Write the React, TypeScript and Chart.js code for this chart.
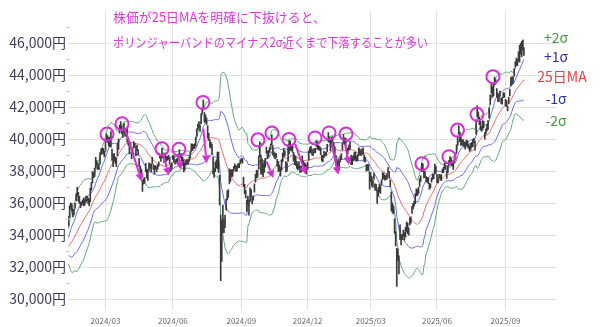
import React, { useEffect, useRef } from 'react';
import { Chart, registerables } from 'chart.js';

Chart.register(...registerables);

// ---------- data ----------
const months = ['2023/12', '2024/01', '2024/02', '2024/03', '2024/04', '2024/05', '2024/06', '2024/07', '2024/08', '2024/09', '2024/10', '2024/11', '2024/12', '2025/01', '2025/02', '2025/03', '2025/04', '2025/05', '2025/06', '2025/07', '2025/08', '2025/09'];
const monthDays = [21, 19, 19, 20, 21, 21, 20, 22, 21, 19, 22, 20, 21, 19, 18, 20, 21, 20, 21, 22, 20, 18];

// closes before the first shown day (for the 25-day bands)
const warmupCloses = [33431, 33231, 33231, 33445, 32858, 32307, 32791, 32843, 32926, 32686, 32970, 32758, 33219, 33675, 33141, 33169, 33254, 33305, 33681, 33539, 33464, 33288, 33377, 33763, 34441];

const closes = [
  // 2024/01
  35049, 35577, 35901, 35619, 35477, 35466, 35963, 36546, 36517, 36226, 36236, 35751, 36026, 36065, 36286,
  // 2024/02
  36011, 36158, 36354, 36160, 36119, 36863, 36897, 37963, 37703, 38157, 38487, 38470, 38363, 38262, 39098, 39233, 39239, 39208, 39166,
  // 2024/03
  39910, 40109, 40097, 40090, 39598, 39688, 38820, 38797, 38695, 38807, 38707, 39740, 40003, 40815, 40888, 40414, 40398, 40762, 40168, 40369,
  // 2024/04
  39803, 39838, 39451, 39773, 38992, 39347, 39773, 39581, 39442, 39523, 39232, 38471, 37961, 38079, 37068, 37438, 37552, 38460, 37628, 37934, 38405,
  // 2024/05
  38274, 38236, 38835, 38202, 38073, 38229, 38179, 38356, 38385, 38920, 38787, 39069, 38946, 38617, 39103, 38646, 38900, 38855, 38556, 38054, 38487,
  // 2024/06
  38923, 38837, 38490, 38703, 38683, 39038, 39134, 38876, 38720, 38814, 38102, 38482, 38570, 38633, 38596, 38804, 39173, 39667, 39341, 39583,
  // 2024/07
  39631, 40074, 40580, 40913, 40912, 40780, 41580, 41831, 42224, 41190, 41275, 41097, 40126, 40063, 39599, 39594, 39154, 37869, 37667, 38468, 38525, 39101,
  // 2024/08
  38126, 35909, 31458, 34675, 35089, 34831, 35025, 36232, 36442, 36726, 38062, 37388, 38062, 37951, 38211, 38364, 38110, 38288, 38371, 38362, 38647,
  // 2024/09
  38700, 38686, 37047, 36657, 36391, 36159, 36159, 35619, 36833, 36581, 36203, 36380, 37155, 37723, 37940, 37870, 38925, 39829, 37919,
  // 2024/10
  38651, 37808, 38552, 38635, 39332, 38937, 39277, 39380, 39605, 39910, 39180, 38911, 38981, 38954, 38411, 38104, 38143, 37913, 38605, 39027, 39277, 39081,
  // 2024/11
  38053, 38474, 39480, 39381, 39500, 39533, 39376, 38721, 38535, 38642, 38220, 38414, 38352, 38026, 38283, 38780, 38442, 38134, 38349, 38208,
  // 2024/12
  38513, 39248, 39276, 39395, 39091, 39160, 39367, 39372, 39849, 39470, 39457, 39364, 39082, 38813, 38701, 39161, 39036, 39130, 39568, 40281, 39894,
  // 2025/01
  39307, 40083, 39981, 39605, 39190, 38474, 38444, 38572, 38451, 38902, 39027, 39646, 39958, 39931, 39565, 39016, 39414, 39513, 39572,
  // 2025/02
  38520, 38798, 38831, 39066, 38787, 38801, 38963, 39461, 39149, 39174, 39270, 39164, 38678, 38776, 38237, 38142, 38256, 37155,
  // 2025/03
  37785, 37331, 37418, 37704, 36887, 37028, 36793, 36819, 36790, 37053, 37396, 37845, 37751, 37677, 37608, 37780, 38027, 37799, 37120, 35617,
  // 2025/04
  35624, 35725, 34735, 33780, 31136, 33012, 31714, 34609, 33585, 33982, 34267, 33920, 34377, 34730, 34280, 34220, 34868, 35039, 35705, 35839, 36045,
  // 2025/05
  36452, 36830, 36780, 36928, 37503, 37644, 38183, 38128, 37755, 37753, 37498, 37529, 37299, 36985, 37160, 37531, 37724, 37722, 38432, 37965,
  // 2025/06
  37470, 37446, 37747, 37554, 37741, 38088, 38211, 38421, 38173, 37834, 38311, 38536, 38885, 38488, 38403, 38354, 38790, 38942, 39584, 40150, 40487,
  // 2025/07
  39986, 39762, 39785, 39810, 39587, 39688, 39821, 39646, 39569, 39459, 39678, 39663, 39901, 39819, 39774, 41171, 41826, 41456, 40998, 40674, 40654, 41069,
  // 2025/08
  40799, 40290, 40549, 40794, 41059, 41820, 42718, 43274, 42649, 43378, 43714, 43546, 42888, 42610, 42633, 42807, 42394, 42520, 42829, 42718,
  // 2025/09
  42188, 42310, 41938, 42580, 43018, 43643, 43459, 43837, 44372, 44768, 44902, 44790, 45303, 45045, 45493, 45630, 45754, 45354,
];

const highs = [
  35160, 35840, 36008, 35970, 35630, 35620, 36000, 36580, 36980, 36670, 36420, 36060, 36080, 36200, 36330,
  36190, 36440, 36420, 36330, 36250, 36920, 37290, 37970, 37900, 38190, 38860, 38650, 38480, 38400, 39160, 39390, 39430, 39420, 39240,
  39990, 40310, 40200, 40100, 40130, 40470, 39370, 39060, 39100, 38880, 38790, 39760, 40010, 40880, 41090, 40840, 40500, 40980, 40620, 40560,
  40700, 39920, 39640, 39790, 39200, 39460, 39850, 39740, 39520, 39620, 39350, 38800, 38310, 38120, 37430, 37500, 37600, 38490, 38110, 38050, 38520,
  38460, 38440, 38860, 38420, 38320, 38350, 38270, 38410, 38580, 39000, 38910, 39440, 39130, 38900, 39140, 38920, 38920, 38980, 38830, 38400, 38520,
  38990, 38950, 38660, 38750, 38790, 39060, 39330, 39040, 39090, 38870, 38680, 38510, 38670, 38720, 38690, 38880, 39180, 39710, 39690, 39660,
  39700, 40130, 40640, 40940, 41100, 40860, 41600, 41870, 42430, 41650, 41520, 41330, 40850, 40360, 39960, 39800, 39690, 38880, 38150, 38570, 38710, 39180,
  39190, 37730, 35250, 34910, 35880, 35020, 35250, 36270, 36760, 36850, 38140, 38070, 38100, 38090, 38290, 38450, 38320, 38350, 38470, 38490, 38700,
  38780, 38800, 37620, 37170, 36790, 36190, 36440, 36200, 36960, 36850, 36350, 36450, 37200, 37800, 38050, 38050, 38950, 39830, 39000,
  38760, 38450, 38620, 38800, 39500, 39230, 39300, 39470, 39700, 40260, 39600, 39200, 39120, 39110, 38730, 38590, 38380, 38240, 38700, 39130, 39400, 39280,
  38590, 38520, 39660, 39900, 39880, 39590, 39600, 39170, 39000, 38900, 38610, 38450, 38590, 38310, 38320, 38950, 38620, 38520, 38470, 38360,
  38560, 39270, 39470, 39540, 39390, 39210, 39400, 39420, 39900, 39850, 39590, 39550, 39450, 38980, 38970, 39230, 39190, 39170, 39670, 40400, 40130,
  39990, 40130, 40150, 39780, 39510, 38970, 38600, 38750, 38620, 38950, 39090, 39730, 40280, 40060, 40060, 39380, 39450, 39620, 39810,
  38990, 38890, 38980, 39180, 39190, 38900, 39030, 39470, 39390, 39280, 39370, 39460, 39000, 38870, 38400, 38400, 38400, 37930,
  37900, 37650, 37450, 37880, 37210, 37170, 36800, 36990, 37190, 37090, 37450, 37900, 37880, 37740, 37720, 37860, 38220, 37970, 37460, 36710,
  35990, 35810, 35010, 34200, 33170, 33120, 32700, 34640, 34000, 34050, 34310, 34150, 34470, 34830, 34750, 34460, 35070, 35140, 35790, 35980, 36130,
  36600, 36890, 36840, 36980, 37530, 37700, 38490, 38450, 38080, 37970, 37660, 37610, 37600, 37230, 37210, 37580, 37810, 37800, 38440, 38300,
  37790, 37580, 37800, 37770, 37780, 38120, 38240, 38500, 38370, 38010, 38340, 38660, 38900, 38820, 38640, 38500, 38830, 39080, 39640, 40180, 40850,
  40440, 40150, 39980, 39970, 39830, 39800, 39940, 39900, 39700, 39580, 39730, 39790, 39950, 40040, 39890, 41200, 42070, 41700, 41360, 41110, 40790, 41160,
  41110, 40400, 40640, 40920, 41150, 41950, 42770, 43450, 43260, 43450, 43880, 43710, 43160, 42870, 42740, 43000, 42570, 42580, 42910, 42870,
  42480, 42400, 42040, 42610, 43130, 43840, 43900, 43880, 44400, 44830, 45060, 44970, 45450, 45850, 45980, 46100, 46180, 45720,
];

const lows = [
  34560, 35140, 35640, 35500, 35130, 35260, 35660, 36150, 36430, 36120, 35980, 35720, 35850, 35930, 35820,
  35880, 36040, 36140, 35980, 35830, 36070, 36800, 37260, 37590, 37670, 38160, 38380, 38100, 38090, 38430, 39040, 39150, 39040, 38880,
  39240, 39920, 39780, 39550, 39520, 39500, 38660, 38270, 38640, 38480, 38270, 38950, 39360, 40370, 40670, 40340, 40110, 40410, 40160, 40220,
  39800, 39620, 39070, 39480, 38770, 39070, 39460, 39500, 38960, 39270, 39000, 38290, 37900, 37560, 36730, 37180, 37250, 37940, 37550, 37410, 38040,
  38180, 37970, 38480, 38100, 37800, 38130, 37950, 38120, 38300, 38800, 38610, 38850, 38800, 38530, 38600, 38600, 38680, 38750, 38460, 37980, 38170,
  38710, 38560, 38430, 38540, 38580, 38700, 38960, 38830, 38620, 38350, 37950, 38060, 38380, 38420, 38430, 38610, 38800, 39190, 39280, 39390,
  39420, 39560, 40160, 40600, 40700, 40480, 40960, 41600, 41950, 41060, 41050, 40920, 40050, 39910, 39500, 39430, 39040, 37830, 37610, 37970, 38220, 38140,
  37920, 35880, 31160, 32350, 34150, 34150, 34470, 35550, 36200, 36360, 37200, 37350, 37660, 37660, 37990, 38170, 37980, 37990, 38190, 38210, 38440,
  38590, 38500, 37020, 36590, 36300, 35480, 35910, 35250, 36100, 36400, 35950, 36180, 36690, 37300, 37570, 37620, 38100, 38900, 37800,
  37810, 37650, 37910, 38250, 39120, 38780, 38890, 39160, 39350, 39630, 39000, 38870, 38760, 38830, 38300, 37980, 38000, 37680, 38080, 38590, 38880, 38950,
  37950, 37990, 38600, 39100, 39280, 39290, 39180, 38630, 38420, 38360, 38170, 38070, 38170, 37910, 37930, 38500, 38330, 37970, 38100, 37820,
  38110, 38660, 39140, 39150, 39010, 38960, 39130, 39150, 39540, 39380, 39330, 39290, 39010, 38630, 38570, 38860, 38960, 38980, 39200, 39820, 39790,
  39260, 39500, 39850, 39500, 39040, 38350, 38220, 38370, 38060, 38580, 38720, 39300, 39740, 39650, 39460, 38880, 39110, 39320, 39360,
  38400, 38400, 38630, 38700, 38660, 38610, 38660, 38940, 39040, 38960, 39070, 39030, 38600, 38550, 38000, 38040, 38040, 36870,
  37350, 37050, 36980, 37500, 36810, 36790, 35980, 36440, 36690, 36610, 37140, 37470, 37540, 37440, 37470, 37500, 37880, 37550, 37020, 35510,
  35380, 35320, 34100, 33320, 30790, 32410, 31580, 33720, 33380, 33710, 33920, 33680, 33890, 34230, 34090, 33990, 34640, 34740, 35360, 35620, 35800,
  35970, 36480, 36450, 36600, 37040, 37350, 37960, 37980, 37570, 37610, 37320, 37310, 37220, 36860, 36950, 37300, 37480, 37520, 37800, 37860,
  37280, 37260, 37590, 37480, 37400, 37880, 37900, 38170, 38100, 37540, 37900, 38320, 38570, 38400, 38310, 38100, 38520, 38750, 39100, 39620, 40300,
  39840, 39610, 39630, 39610, 39500, 39370, 39590, 39500, 39420, 39230, 39320, 39480, 39530, 39760, 39300, 40300, 41390, 41280, 40900, 40570, 40480, 40570,
  40710, 39990, 40300, 40510, 40610, 41300, 42170, 42880, 42600, 42700, 43400, 43450, 42620, 42350, 42330, 42660, 42230, 42180, 42590, 42610,
  42080, 42030, 41760, 42200, 42700, 43320, 43420, 43500, 43910, 44490, 44620, 44580, 44870, 44800, 45300, 45150, 45560, 45220,
];

const tickMonths = ['2024/03', '2024/06', '2024/09', '2024/12', '2025/03', '2025/06', '2025/09'];
const yTickValues = [30000, 32000, 34000, 36000, 38000, 40000, 42000, 44000, 46000];
const yMinorValues = [31000, 33000, 35000, 37000, 39000, 41000, 43000, 45000, 47000];

// [trading-day index, price]
const circleMarks = [
  [35.4, 40310], [49.2, 40960], [86.0, 39390], [101.6, 39360], [123.7, 42290],
  [174.3, 39950], [187.2, 40380], [202.8, 39980], [226.8, 40070], [239.7, 40380],
  [255.3, 40320], [325.2, 38460], [350.0, 38900], [357.9, 40560], [375.8, 41550], [390.5, 43900],
];
// [from index, from price, to index, to price]
const arrowMarks = [
  [52.0, 40620, 67.4, 37350],
  [86.9, 39080, 92.4, 37720],
  [100.7, 39020, 103.5, 38090],
  [124.0, 40640, 127.1, 38480],
  [182.3, 38590, 188.4, 37560],
  [208.4, 39720, 218.5, 37770],
  [242.1, 39720, 248.2, 37770],
  [254.4, 39720, 258.0, 38380],
];

const headerLines = ['株価が25日MAを明確に下抜けると、', 'ポリンジャーバンドのマイナス2σ近くまで下落することが多い'];
const bandLabels = ['+2σ', '+1σ', '25日MA', '-1σ', '-2σ'];

// ---------- component ----------
const FONT = '"Noto Sans CJK JP", "Noto Sans", sans-serif';
const MAGENTA = '#d62fd6';

export default function App() {
  const ref = useRef<HTMLCanvasElement | null>(null);

  useEffect(() => {
    const canvas = ref.current;
    if (!canvas) return;
    const W = warmupCloses.length;
    const full = [...warmupCloses, ...closes];
    const ma: any[] = [], p1: any[] = [], p2: any[] = [], m1: any[] = [], m2: any[] = [];
    for (let i = 0; i < closes.length; i++) {
      const j = i + W;
      const win = full.slice(j - 24, j + 1);
      const m = win.reduce((a, v) => a + v, 0) / win.length;
      const sd = Math.sqrt(win.reduce((a, v) => a + (v - m) * (v - m), 0) / win.length);
      ma.push({ x: i, y: m });
      p1.push({ x: i, y: m + sd });
      p2.push({ x: i, y: m + 2 * sd });
      m1.push({ x: i, y: m - sd });
      m2.push({ x: i, y: m - 2 * sd });
    }
    const candles = closes.map((_, i) => ({ x: i, y: [lows[i], highs[i]] }));

    const monthStart: Record<string, number> = {};
    let acc = 0;
    months.forEach((m, k) => { monthStart[m] = acc - W; acc += monthDays[k]; });
    const xTickVals = tickMonths.map((m) => monthStart[m]);
    const xLabel = new Map<number, string>();
    tickMonths.forEach((m, k) => xLabel.set(xTickVals[k], m));

    const annot = {
      id: 'annot',
      afterDraw(chart: any) {
        const { ctx, chartArea } = chart;
        const xs = chart.scales.x, ys = chart.scales.y;
        ctx.save();
        // minor y ticks
        ctx.strokeStyle = '#c9c9c9';
        ctx.lineWidth = 1;
        yMinorValues.forEach((v) => {
          const py = Math.round(ys.getPixelForValue(v)) + 0.5;
          ctx.beginPath();
          ctx.moveTo(chartArea.left - 2, py);
          ctx.lineTo(chartArea.left + 2, py);
          ctx.stroke();
        });
        // arrows
        ctx.strokeStyle = MAGENTA;
        ctx.fillStyle = MAGENTA;
        ctx.lineWidth = 2;
        arrowMarks.forEach(([i1, v1, i2, v2]) => {
          const x1 = xs.getPixelForValue(i1), y1 = ys.getPixelForValue(v1);
          const x2 = xs.getPixelForValue(i2), y2 = ys.getPixelForValue(v2);
          const ang = Math.atan2(y2 - y1, x2 - x1);
          const L = 8, H = 4;
          const bx = x2 - L * Math.cos(ang), by = y2 - L * Math.sin(ang);
          ctx.beginPath();
          ctx.moveTo(x1, y1);
          ctx.lineTo(bx, by);
          ctx.stroke();
          ctx.beginPath();
          ctx.moveTo(x2, y2);
          ctx.lineTo(bx + H * Math.sin(ang), by - H * Math.cos(ang));
          ctx.lineTo(bx - H * Math.sin(ang), by + H * Math.cos(ang));
          ctx.closePath();
          ctx.fill();
        });
        // circles
        circleMarks.forEach(([i, v]) => {
          ctx.beginPath();
          ctx.arc(xs.getPixelForValue(i), ys.getPixelForValue(v), 6.5, 0, Math.PI * 2);
          ctx.stroke();
        });
        // header
        ctx.fillStyle = '#dc3adc';
        ctx.font = `13px ${FONT}`;
        ctx.textBaseline = 'middle';
        ctx.textAlign = 'left';
        ctx.fillText(headerLines[0], 113, 17, 213);
        ctx.fillText(headerLines[1], 113, 42, 315);
        // band labels
        const lab = [
          { c: '#3f9a3f', x: 556, y: 38 },
          { c: '#2b2bb8', x: 556, y: 57 },
          { c: '#e5443c', x: 562, y: 77 },
          { c: '#2b2bb8', x: 556, y: 99 },
          { c: '#3f9a3f', x: 556, y: 121 },
        ];
        ctx.font = `14px ${FONT}`;
        ctx.textAlign = 'center';
        bandLabels.forEach((t, k) => {
          ctx.fillStyle = lab[k].c;
          ctx.fillText(t, lab[k].x, lab[k].y);
        });
        ctx.restore();
      },
    };

    const lineDs = (data: any[], color: string) => ({
      type: 'line', data, borderColor: color, borderWidth: 1, pointRadius: 0, tension: 0, order: 1,
    });

    const chart = new Chart(canvas, {
      type: 'bar',
      data: {
        datasets: [
          { type: 'bar', data: candles as any, backgroundColor: '#3a3a3a', borderWidth: 0, barThickness: 1, order: 0 } as any,
          lineDs(p2, '#62a87c') as any,
          lineDs(p1, '#6b6be2') as any,
          lineDs(ma, '#ee6a6a') as any,
          lineDs(m1, '#6b6be2') as any,
          lineDs(m2, '#62a87c') as any,
        ],
      },
      options: {
        responsive: false,
        animation: false,
        layout: { padding: { top: 7, right: 44, left: 0, bottom: 0 } },
        plugins: { legend: { display: false }, tooltip: { enabled: false } },
        scales: {
          x: {
            type: 'linear',
            min: -0.5,
            max: 448.5,
            offset: false,
            grid: { color: '#e1e1e1', drawTicks: false, offset: false },
            border: { display: false },
            afterBuildTicks: (s: any) => { s.ticks = xTickVals.map((v) => ({ value: v })); },
            afterFit: (s: any) => { s.height = 17; },
            ticks: {
              autoSkip: false, maxRotation: 0, padding: 6, color: '#666',
              font: { size: 8, family: FONT },
              callback: (v: any) => xLabel.get(Number(v)) ?? '',
            },
          },
          y: {
            type: 'linear',
            min: 29320,
            max: 48040,
            grid: { color: '#e1e1e1', drawTicks: false },
            border: { display: false },
            afterBuildTicks: (s: any) => { s.ticks = yTickValues.map((v) => ({ value: v })); },
            afterFit: (s: any) => { s.width = 68; },
            ticks: {
              autoSkip: false, padding: 2, color: '#3d3d5e',
              font: { size: 14, family: FONT },
              callback: (v: any) => Number(v).toLocaleString('en-US') + '円',
            },
          },
        },
      } as any,
      plugins: [annot],
    });
    return () => chart.destroy();
  }, []);

  return (
    <div style={{ position: 'fixed', left: 0, top: 0, width: 600, height: 327, background: '#fff' }}>
      <canvas ref={ref} width={600} height={327} style={{ display: 'block', width: 600, height: 327 }} />
    </div>
  );
}
